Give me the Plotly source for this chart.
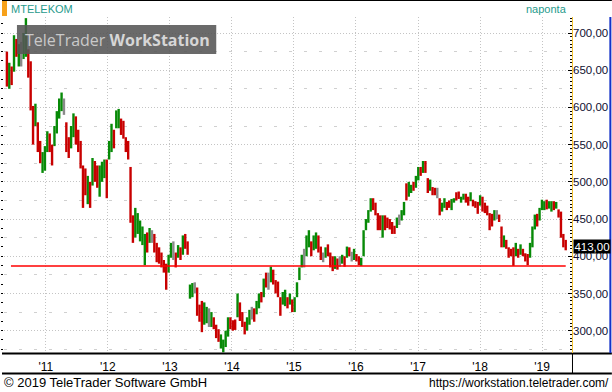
import pandas as pd
import plotly.graph_objects as go

# ---------------- data ----------------
SYMBOL = "MTELEKOM"
PERIOD = "naponta"
START_DATE = "2010-05-17"
BAR_STEP = "14D"

LOW = [628, 625, 630, 648, 668, 655, 655, 665, 668, 640,
       596, 550, 575, 540, 525, 512, 515, 540, 540, 522,
       548, 565, 585, 595, 590, 540, 532, 545, 560, 550,
       540, 518, 465, 482, 470, 465, 495, 500, 492, 480,
       500, 505, 478, 530, 540, 545, 572, 572, 563, 558,
       540, 530, 445, 418, 425, 430, 420, 415, 388, 405,
       418, 418, 405, 392, 390, 385, 378, 355, 378, 398,
       395, 385, 398, 395, 402, 410, 402, 343, 345, 350,
       320, 312, 298, 308, 310, 305, 305, 302, 290, 285,
       276, 271, 278, 292, 302, 300, 301, 318, 313, 305,
       295, 300, 308, 315, 312, 322, 330, 338, 345, 358,
       355, 365, 362, 350, 345, 320, 335, 333, 330, 335,
       325, 325, 345, 368, 385, 385, 400, 412, 400, 408,
       410, 405, 395, 392, 398, 400, 385, 380, 383, 382,
       386, 390, 386, 398, 400, 393, 395, 393, 388, 387,
       400, 435, 445, 460, 462, 455, 435, 435, 425, 435,
       438, 436, 430, 430, 438, 442, 448, 455, 475, 480,
       485, 488, 492, 502, 508, 512, 512, 485, 488, 482,
       482, 478, 455, 460, 465, 462, 465, 462, 472, 475,
       477, 472, 476, 472, 468, 474, 467, 465, 457, 468,
       460, 458, 455, 435, 440, 448, 450, 446, 412, 412,
       410, 398, 400, 387, 400, 398, 402, 400, 393, 388,
       398, 412, 436, 440, 448, 462, 462, 463, 464, 460,
       462, 464, 452, 425, 412, 408]

HIGH = [675, 660, 655, 697, 692, 685, 688, 700, 720, 678,
        662, 602, 605, 580, 555, 540, 548, 568, 565, 550,
        575, 595, 612, 620, 612, 580, 560, 575, 592, 588,
        570, 555, 522, 518, 508, 500, 532, 528, 522, 522,
        527, 530, 530, 555, 578, 570, 596, 598, 585, 582,
        560, 555, 520, 455, 465, 458, 448, 440, 430, 432,
        438, 435, 430, 418, 412, 405, 395, 390, 402, 418,
        420, 405, 415, 412, 428, 430, 420, 362, 364, 365,
        358, 335, 340, 338, 332, 330, 325, 318, 308, 302,
        295, 288, 300, 318, 318, 314, 315, 350, 338, 325,
        312, 318, 328, 332, 330, 340, 350, 352, 370, 378,
        378, 386, 382, 368, 366, 345, 352, 355, 345, 350,
        342, 345, 365, 385, 402, 410, 428, 435, 420, 428,
        432, 428, 413, 405, 412, 416, 405, 400, 400, 397,
        400, 402, 400, 413, 412, 406, 410, 403, 400, 398,
        435, 450, 462, 478, 478, 472, 458, 455, 455, 455,
        452, 450, 446, 441, 452, 456, 462, 473, 498, 500,
        496, 500, 508, 520, 520, 528, 528, 505, 503, 493,
        492, 492, 478, 472, 478, 473, 475, 477, 478, 486,
        487, 480, 484, 484, 480, 486, 476, 474, 473, 482,
        480, 472, 468, 458, 457, 462, 462, 456, 440, 428,
        422, 412, 410, 412, 418, 410, 416, 410, 404, 403,
        418, 440, 456, 457, 465, 476, 474, 476, 474, 474,
        474, 473, 463, 460, 430, 422]

# g = up bar, r = down bar, n = unchanged
DIRECTION = ("rgrgrgnggr" "rrgrrgggrr" "ggggnrrggr" "rrrrgrgrrg"
             "ggrggrggrr" "rrrrgggggr" "gnrrrrrrgg" "nrgrgrrggn"
             "rrrggngrrr" "ggggrrrgrr" "rggnrggrgr" "ngrrrrggrg"
             "rggggnggrg" "grrngrrrgr" "ngrgrngrrg" "ggggrrrrgr"
             "rrrrgnggrg" "grggrgrrgr" "rnrggrrggr" "rggrrgrrrg"
             "rrrrrgnrrg" "rrrrgrgrrr" "gggrgggrgg" "rgrrrr")

SUPPORT_LEVEL = 387
SUPPORT_START = "2010-06-10"
SUPPORT_END = "2019-05-20"
LAST_PRICE = 413.00

X_RANGE = ["2010-04-30", "2019-06-26"]
Y_RANGE = [270, 721.5]

# ---------------- styling ----------------
UP = "#078a07"
DOWN = "#c80000"
FLAT = "#8a8a8a"
TEAL = "#1f9a8c"
FONT = "Liberation Sans"

dates = pd.date_range(START_DATE, periods=len(LOW), freq=BAR_STEP)
df = pd.DataFrame({"date": dates, "low": LOW, "high": HIGH, "dir": list(DIRECTION)})

fig = go.Figure()
for key, color in (("g", UP), ("r", DOWN), ("n", FLAT)):
    d = df[df["dir"] == key]
    if key == "g":
        o, c = d["low"], d["high"]
    elif key == "r":
        o, c = d["high"], d["low"]
    else:
        o = c = (d["low"] + d["high"]) / 2
    fig.add_trace(go.Ohlc(
        x=d["date"], open=o, high=d["high"], low=d["low"], close=c,
        increasing=dict(line=dict(color=color, width=2.4)),
        decreasing=dict(line=dict(color=color, width=2.4)),
        tickwidth=0, hoverinfo="skip", showlegend=False,
    ))

# support line (also carries the left helper axis)
fig.add_trace(go.Scatter(
    x=[SUPPORT_START, SUPPORT_END], y=[SUPPORT_LEVEL, SUPPORT_LEVEL],
    mode="lines", line=dict(color="#ff0000", width=1.5),
    yaxis="y2", hoverinfo="skip", showlegend=False,
))

W, H = 612, 392
L, R, T, B = 2, 40, 17, 39
pw, ph = W - L - R, H - T - B


def px(xpix):
    return (xpix - L) / pw


def py(ypix):
    return 1 - (ypix - T) / ph


fig.update_layout(
    width=W, height=H,
    margin=dict(l=L, r=R, t=T, b=B, pad=0),
    paper_bgcolor="white", plot_bgcolor="white",
    separators=", ",
    showlegend=False,
    font=dict(family=FONT, size=11, color="#000000"),
    xaxis=dict(
        type="date", range=X_RANGE,
        tick0="2011-01-01", dtick="M12", tickformat="'%y",
        showgrid=True, gridcolor="#c4c4c4", gridwidth=1, griddash="1px,2px",
        ticks="", showline=False, zeroline=False,
        rangeslider=dict(visible=False),
        tickfont=dict(family=FONT, size=12, color="#000000"),
        ticklabelstandoff=5,
        fixedrange=True,
    ),
    yaxis=dict(
        side="right", range=Y_RANGE,
        tick0=0, dtick=50, tickformat=".2f",
        ticks="inside", ticklen=4, tickcolor="#000000", tickwidth=1,
        showgrid=True, gridcolor="#c4c4c4", gridwidth=1, griddash="1px,2px",
        minor=dict(dtick=5, tick0=0, ticks="inside", ticklen=2,
                   tickcolor="#000000", showgrid=False),
        showline=False, zeroline=False,
        tickfont=dict(family=FONT, size=11.5, color="#101030"),
        fixedrange=True,
    ),
    yaxis2=dict(
        overlaying="y", side="left", range=Y_RANGE,
        tick0=25, dtick=50, showticklabels=False,
        ticks="outside", ticklen=2, tickcolor="#000000",
        showgrid=True, gridcolor="#d0d0d0", gridwidth=1, griddash="3px,12px",
        minor=dict(dtick=12.5, tick0=0, ticks="outside", ticklen=2,
                   tickcolor="#000000", showgrid=False),
        showline=False, zeroline=False, fixedrange=True,
    ),
)

shapes = [
    # top frame line
    dict(type="line", xref="paper", yref="paper", x0=px(0), x1=px(612),
         y0=py(0.5), y1=py(0.5), line=dict(color="#000000", width=1)),
    # plot bottom line
    dict(type="line", xref="paper", yref="paper", x0=px(0), x1=px(612),
         y0=py(353.5), y1=py(353.5), line=dict(color="#000000", width=2)),
    # line under date labels
    dict(type="line", xref="paper", yref="paper", x0=px(0), x1=px(612),
         y0=py(373.5), y1=py(373.5), line=dict(color="#000000", width=2)),
    # separator in the date strip
    dict(type="line", xref="paper", yref="paper", x0=px(572.5), x1=px(572.5),
         y0=py(353), y1=py(373), line=dict(color="#000000", width=1)),
    # yellow price-axis edge
    dict(type="line", xref="paper", yref="paper", x0=px(572.5), x1=px(572.5),
         y0=py(17), y1=py(353), line=dict(color="#f2c230", width=1)),
    # blue right edge
    dict(type="line", xref="paper", yref="paper", x0=px(610.5), x1=px(610.5),
         y0=py(17), y1=py(353), line=dict(color="#1432c8", width=2)),
    # orange marker
    dict(type="rect", xref="paper", yref="paper", x0=px(0), x1=px(5),
         y0=py(16), y1=py(1), line=dict(width=0), fillcolor="#f7a11a"),
    # watermark box
    dict(type="rect", xref="paper", yref="paper", x0=px(15), x1=px(215),
         y0=py(54), y1=py(25), line=dict(width=0),
         fillcolor="rgba(85,85,85,0.88)", layer="above"),
]
fig.update_layout(shapes=shapes)

annotations = [
    dict(text=SYMBOL, xref="paper", yref="paper", x=px(7), y=py(9),
         xanchor="left", yanchor="middle", showarrow=False,
         font=dict(family=FONT, size=11, color=TEAL)),
    dict(text=PERIOD, xref="paper", yref="paper", x=px(569), y=py(9),
         xanchor="right", yanchor="middle", showarrow=False,
         font=dict(family=FONT, size=11, color=TEAL)),
    dict(text="<span style='color:#c9c9c9'>TeleTrader</span> "
              "<b><span style='color:#d6d6d6'>WorkStation</span></b>",
         xref="paper", yref="paper", x=px(116), y=py(40),
         xanchor="center", yanchor="middle", showarrow=False,
         font=dict(family="Open Sans", size=16)),
    dict(text=f"{LAST_PRICE:.2f}".replace(".", ","), xref="paper", yref="y",
         x=px(573), y=LAST_PRICE, xanchor="left", yanchor="middle",
         showarrow=False, bgcolor="#000000", width=36, height=13,
         borderpad=0, align="center",
         font=dict(family=FONT, size=11.5, color="#ffffff")),
    dict(text="© 2019 TeleTrader Software GmbH", xref="paper", yref="paper",
         x=px(0), y=py(383), xanchor="left", yanchor="middle", showarrow=False,
         font=dict(family=FONT, size=13, color="#000000")),
    dict(text="https://workstation.teletrader.com/", xref="paper", yref="paper",
         x=px(611), y=py(383), xanchor="right", yanchor="middle", showarrow=False,
         font=dict(family=FONT, size=12, color="#000000")),
]
fig.update_layout(annotations=annotations)

fig.write_html(
    "out.html",
    config={"displayModeBar": False},
    post_script="document.body.style.margin='0';document.body.style.padding='0';",
)
